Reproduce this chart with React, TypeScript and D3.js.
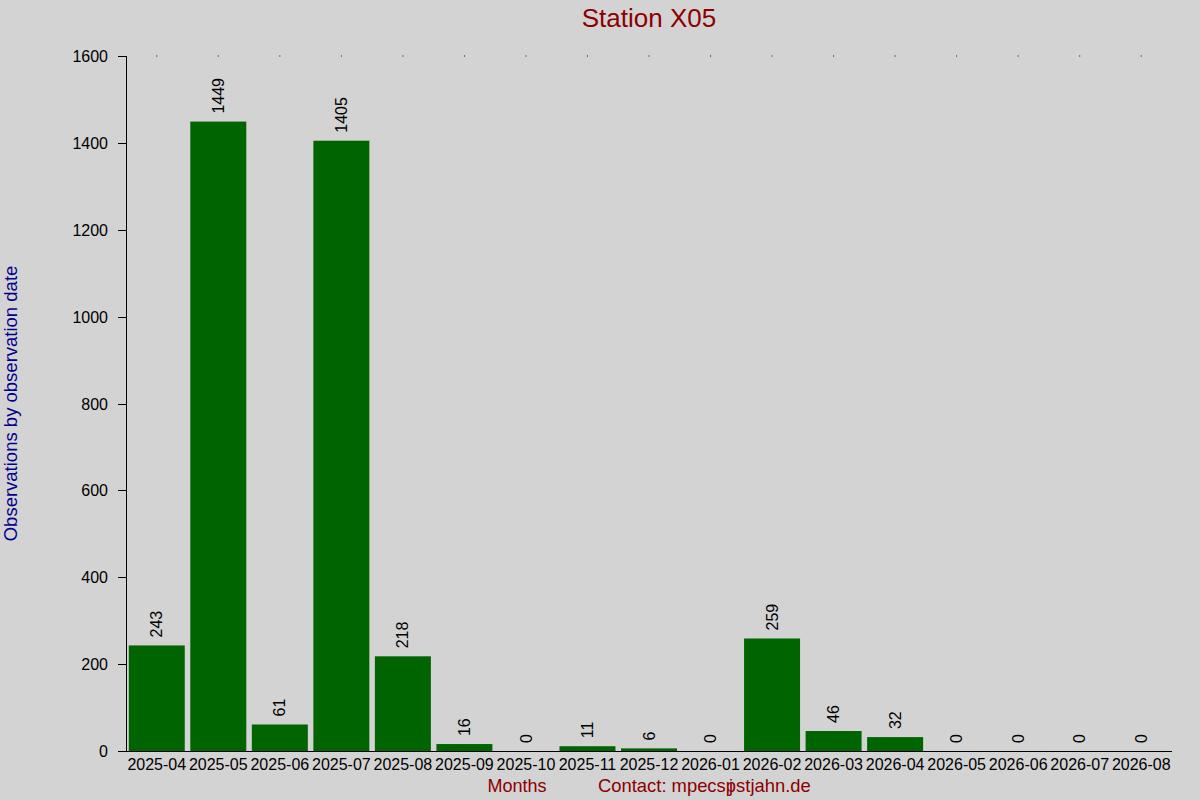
import * as d3 from "d3";
import React from "react";

const months = [
  "2025-04", "2025-05", "2025-06", "2025-07", "2025-08", "2025-09",
  "2025-10", "2025-11", "2025-12", "2026-01", "2026-02", "2026-03",
  "2026-04", "2026-05", "2026-06", "2026-07", "2026-08",
];
const counts = [243, 1449, 61, 1405, 218, 16, 0, 11, 6, 0, 259, 46, 32, 0, 0, 0, 0];
const yTicks = [0, 200, 400, 600, 800, 1000, 1200, 1400, 1600];

const width = 1200;
const height = 800;
const left = 126;
const right = 1172;
const top = 56;
const bottom = 751;
const font = "'Liberation Sans', Arial, sans-serif";

export default function App() {
  const x = d3.scaleBand<string>()
              .domain(months)
              .range([left, right])
              .paddingInner(0.09)
              .paddingOuter(0.045);

  const y = d3.scaleLinear().domain([0, 1600]).range([bottom, top]);

  return (
    <svg
      width={width}
      height={height}
      style={{ position: "absolute", left: 0, top: 0, display: "block" }}
      fontFamily={font}
    >
      <rect width={width} height={height} fill="#d3d3d3" />

      <text x={649} y={27} textAnchor="middle" fontSize={26} fill="#8b0000">
        Station X05
      </text>

      {/* bars */}
      {months.map((m, i) => (
        <rect
          key={m}
          x={x(m)}
          y={y(counts[i])}
          width={x.bandwidth()}
          height={bottom - y(counts[i])}
          fill="#006400"
        />
      ))}

      {/* value labels */}
      {months.map((m, i) => {
        const cx = (x(m) ?? 0) + x.bandwidth() / 2;
        const cy = y(counts[i]) - 8;
        return (
          <text
            key={m}
            transform={`translate(${cx}, ${cy}) rotate(-90)`}
            dy="0.35em"
            fontSize={16}
            fill="#000"
          >
            {counts[i]}
          </text>
        );
      })}

      {/* top dots */}
      {months.map(m => (
        <rect
          key={m}
          x={(x(m) ?? 0) + x.bandwidth() / 2 - 0.5}
          y={top - 0.5}
          width={1}
          height={1}
          fill="#000"
        />
      ))}

      {/* y axis */}
      <line x1={left + 0.5} x2={left + 0.5} y1={top} y2={bottom} stroke="#000" />
      {yTicks.map(t => (
        <g key={t} transform={`translate(0, ${Math.round(y(t)) + 0.5})`}>
          <line x1={left - 8} x2={left} stroke="#000" />
          <text x={left - 18} dy="0.35em" textAnchor="end" fontSize={16} fill="#000">
            {t}
          </text>
        </g>
      ))}

      {/* x axis */}
      <line x1={left - 8} x2={right} y1={bottom + 0.5} y2={bottom + 0.5} stroke="#000" />
      {months.map(m => (
        <text
          key={m}
          x={(x(m) ?? 0) + x.bandwidth() / 2}
          y={770}
          textAnchor="middle"
          fontSize={16}
          fill="#000"
        >
          {m}
        </text>
      ))}

      <text
        transform={`translate(17, ${(top + bottom) / 2}) rotate(-90)`}
        textAnchor="middle"
        fontSize={18.5}
        fill="#00008b"
      >
        Observations by observation date
      </text>

      <text x={517} y={792} textAnchor="middle" fontSize={18} fill="#8b0000">
        Months
      </text>
      <text x={598} y={792} fontSize={18.4} fill="#8b0000">
        Contact: mpecsp<tspan dx={-7}>j</tspan><tspan dx={3}>stjahn.de</tspan>
      </text>
    </svg>
  );
}
